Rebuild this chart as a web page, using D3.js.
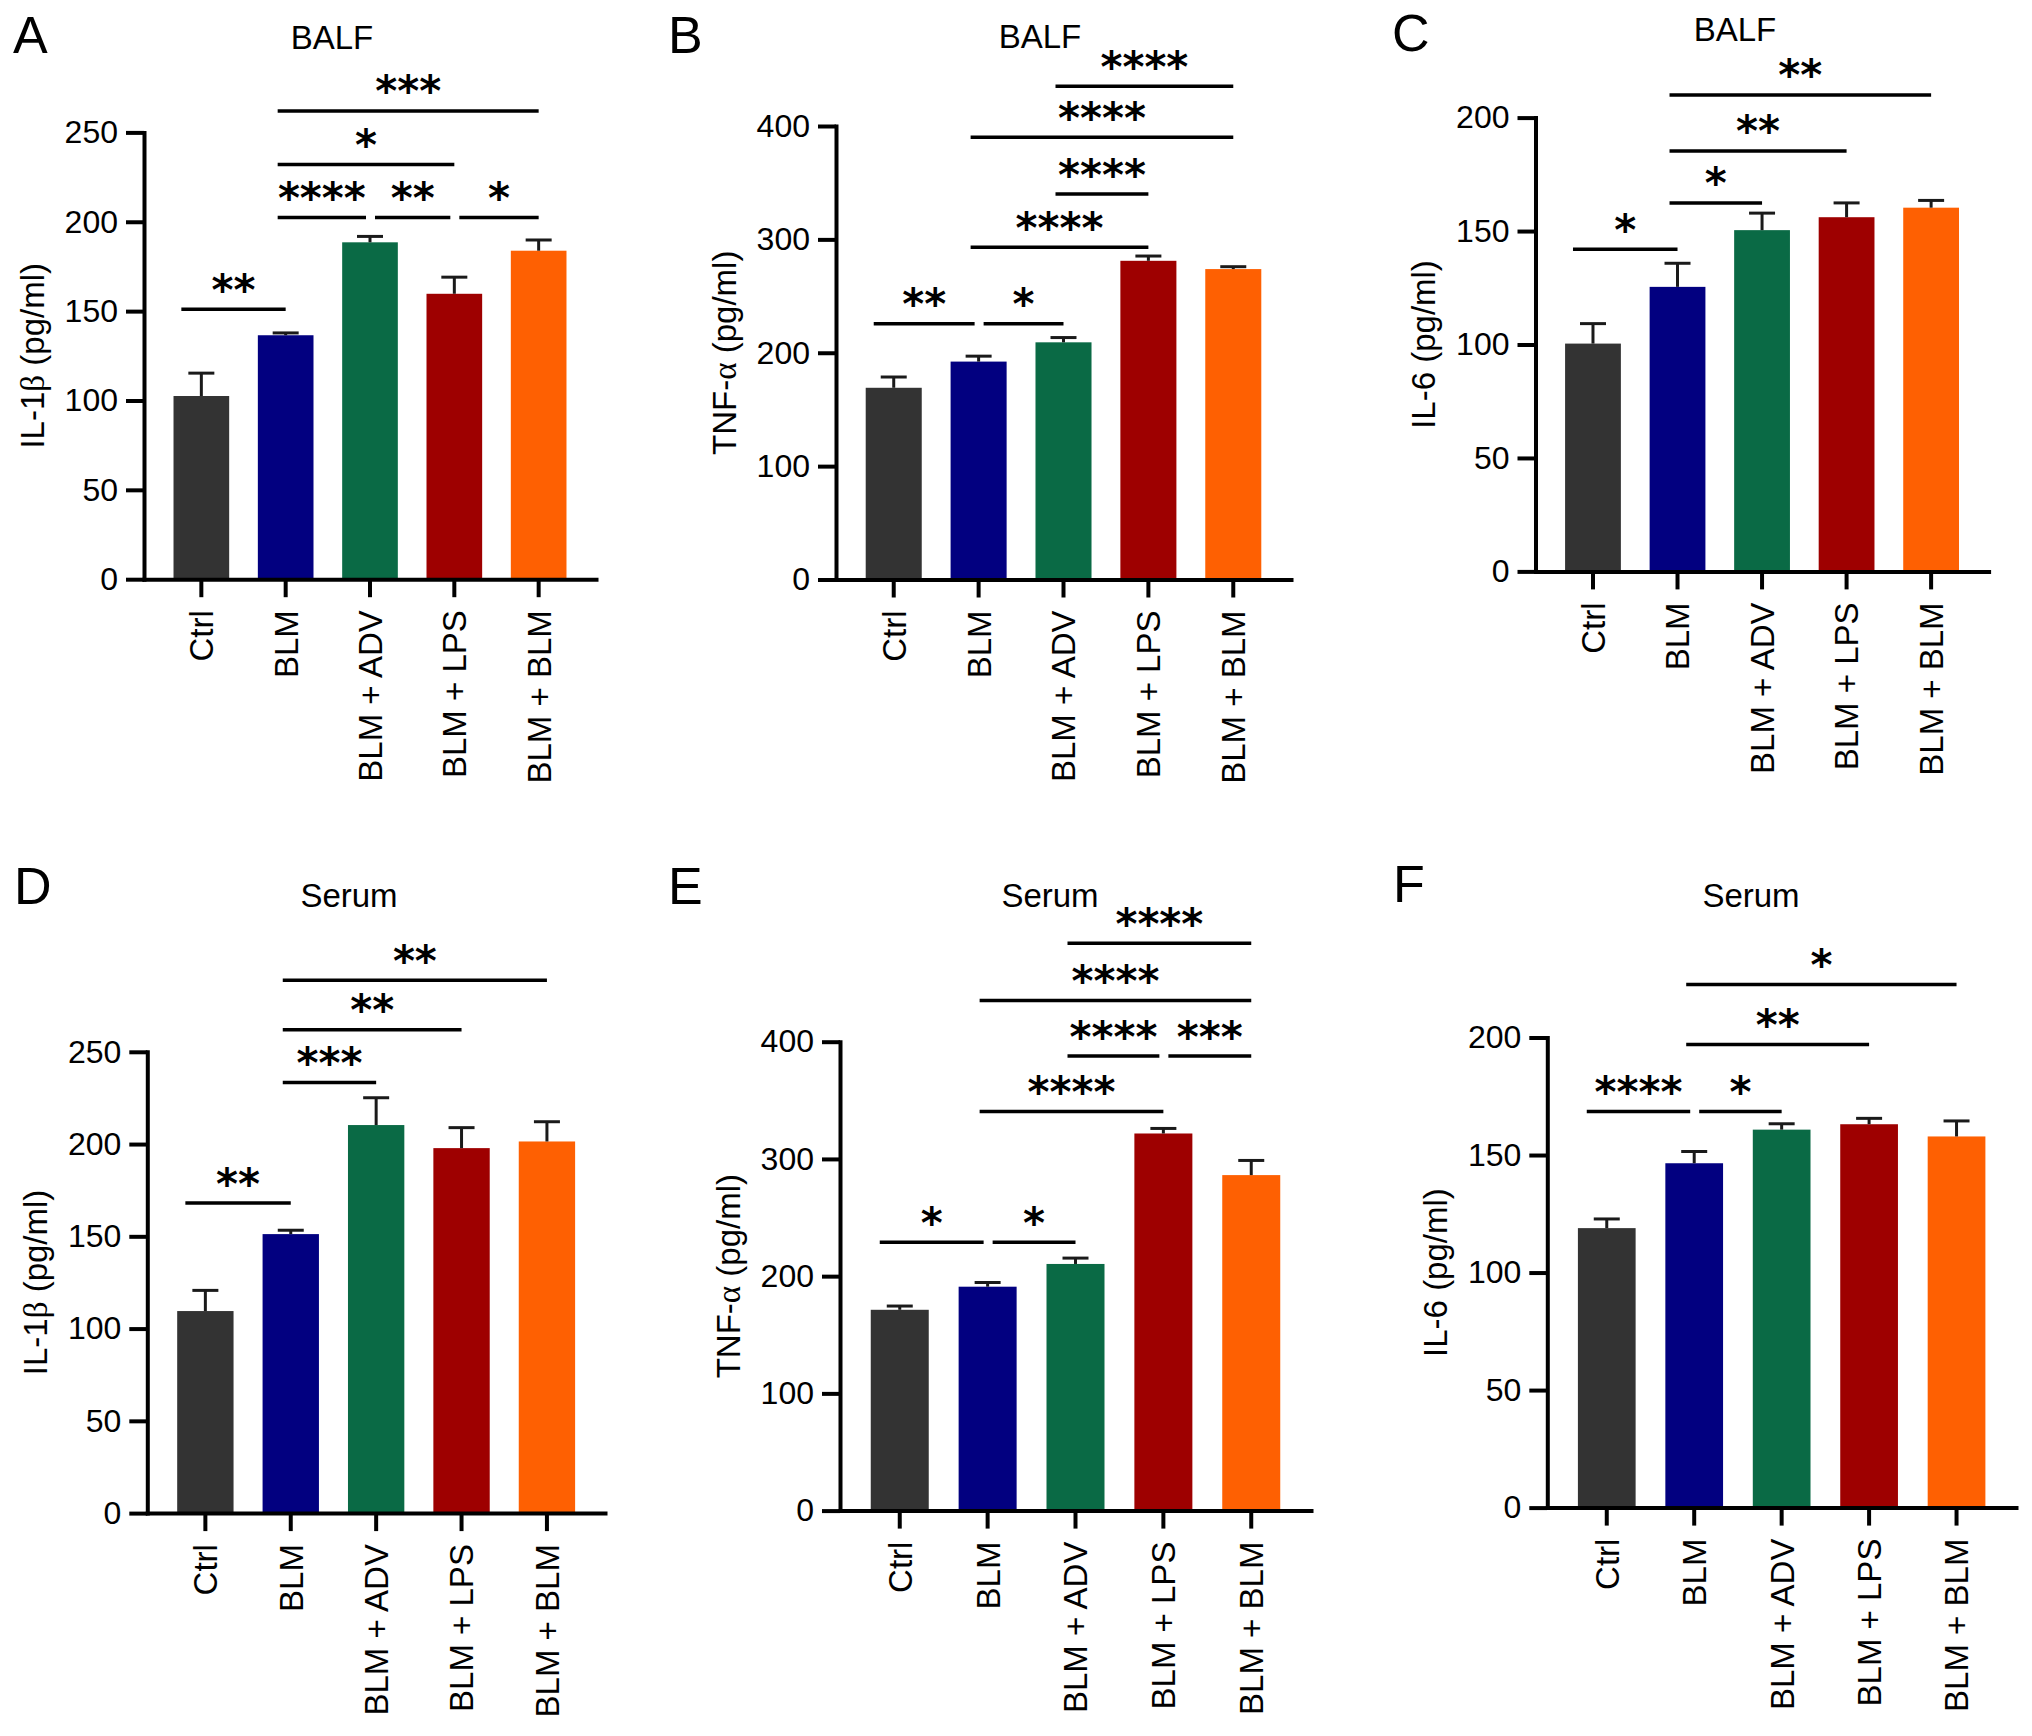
<!DOCTYPE html>
<html>
<head>
<meta charset="utf-8">
<script src="https://cdn.jsdelivr.net/npm/d3@7"></script>
<style>
  body { margin: 0; background: #fff; }
  svg { display: block; }
</style>
</head>
<body>
<script>
// groups on the x axis
const categories = ["Ctrl", "BLM", "BLM + ADV", "BLM + LPS", "BLM + BLM"];

// y tick values
const il1bTicks = [0, 50, 100, 150, 200, 250];
const tnfTicks = [0, 100, 200, 300, 400];
const il6Ticks = [0, 50, 100, 150, 200];

// BALF (mean, SEM)
const il1bBalfMean = [102.5, 136.5, 188.5, 159.7, 183.8];
const il1bBalfSem = [12.8, 1.3, 3.3, 9.3, 6.0];
const tnfBalfMean = [169.1, 192.2, 209.2, 281.1, 273.8];
const tnfBalfSem = [9.5, 4.8, 4.2, 4.2, 2.1];
const il6BalfMean = [100.4, 125.4, 150.4, 156.1, 160.3];
const il6BalfSem = [8.8, 10.4, 7.5, 6.3, 3.2];

// Serum (mean, SEM)
const il1bSerumMean = [109.5, 151.2, 210.3, 197.8, 201.4];
const il1bSerumSem = [11.2, 2.1, 14.8, 11.1, 10.7];
const tnfSerumMean = [171.3, 191.0, 210.4, 321.7, 286.2];
const tnfSerumSem = [3.2, 3.6, 5.0, 4.3, 12.5];
const il6SerumMean = [118.9, 146.5, 160.8, 163.1, 157.9];
const il6SerumSem = [3.9, 5.0, 2.5, 2.5, 6.6];

// significance: [from group, to group, bracket level (data units), label]
const il1bBalfSig = [[0, 1, 151, "**"], [1, 2, 202.4, "****"], [2, 3, 202.4, "**"], [3, 4, 202.4, "*"],
                     [1, 3, 232, "*"], [1, 4, 262, "***"]];
const tnfBalfSig = [[0, 1, 225.5, "**"], [1, 2, 225.5, "*"], [1, 3, 293, "****"], [2, 3, 340, "****"],
                    [1, 4, 390, "****"], [2, 4, 435, "****"]];
const il6BalfSig = [[0, 1, 142, "*"], [1, 2, 162.4, "*"], [1, 3, 185.3, "**"], [1, 4, 210, "**"]];
const il1bSerumSig = [[0, 1, 168, "**"], [1, 2, 233.3, "***"], [1, 3, 262, "**"], [1, 4, 288.8, "**"]];
const tnfSerumSig = [[0, 1, 229, "*"], [1, 2, 229, "*"], [1, 3, 340.4, "****"], [2, 3, 387.8, "****"],
                     [3, 4, 387.8, "***"], [1, 4, 435.2, "****"], [2, 4, 484, "****"]];
const il6SerumSig = [[0, 1, 168.5, "****"], [1, 2, 168.5, "*"], [1, 3, 197, "**"], [1, 4, 222.6, "*"]];

const barColors = ["#333333", "#020080", "#0a6a45", "#9e0000", "#fe6002"];

const W = 2032, H = 1736;
const sans = "'Liberation Sans', Arial, Helvetica, sans-serif";

const panels = [
  {letter: "A", title: "BALF", yl: ["IL-1", "β", " (pg/ml)"], mean: il1bBalfMean, sem: il1bBalfSem, sig: il1bBalfSig, ticks: il1bTicks,
   left: 144, right: 596, top: 132.4, bottom: 579.2, letterX: 13, letterY: 53, titleX: 332, titleY: 49},
  {letter: "B", title: "BALF", yl: ["TNF-", "α", " (pg/ml)"], mean: tnfBalfMean, sem: tnfBalfSem, sig: tnfBalfSig, ticks: tnfTicks,
   left: 836, right: 1291, top: 126, bottom: 579.5, letterX: 668, letterY: 53, titleX: 1040, titleY: 48},
  {letter: "C", title: "BALF", yl: ["IL-6", "", " (pg/ml)"], mean: il6BalfMean, sem: il6BalfSem, sig: il6BalfSig, ticks: il6Ticks,
   left: 1535.5, right: 1988.6, top: 117.6, bottom: 571.4, letterX: 1392, letterY: 51, titleX: 1735, titleY: 41},
  {letter: "D", title: "Serum", yl: ["IL-1", "β", " (pg/ml)"], mean: il1bSerumMean, sem: il1bSerumSem, sig: il1bSerumSig, ticks: il1bTicks,
   left: 147.3, right: 605, top: 1051.8, bottom: 1513.1, letterX: 14, letterY: 904, titleX: 349, titleY: 907},
  {letter: "E", title: "Serum", yl: ["TNF-", "α", " (pg/ml)"], mean: tnfSerumMean, sem: tnfSerumSem, sig: tnfSerumSig, ticks: tnfTicks,
   left: 840, right: 1311, top: 1041.7, bottom: 1510.6, letterX: 668, letterY: 904, titleX: 1050, titleY: 907},
  {letter: "F", title: "Serum", yl: ["IL-6", "", " (pg/ml)"], mean: il6SerumMean, sem: il6SerumSem, sig: il6SerumSig, ticks: il6Ticks,
   left: 1547.3, right: 2016, top: 1037.5, bottom: 1507.6, letterX: 1393, letterY: 902, titleX: 1751, titleY: 907}
];

const svg = d3.select("body").append("svg")
    .attr("width", W)
    .attr("height", H)
    .attr("viewBox", `0 0 ${W} ${H}`)
    .style("font-family", sans);

svg.append("rect").attr("width", W).attr("height", H).attr("fill", "#fff");

panels.forEach(p => {
    const g = svg.append("g");

    const x = d3.scaleBand()
        .domain(categories)
        .range([p.left, p.right])
        .paddingInner(0.34)
        .paddingOuter(0.35);

    const yMax = p.ticks[p.ticks.length - 1];
    const y = d3.scaleLinear()
        .domain([0, yMax])
        .range([p.bottom, p.top]);

    const cx = i => x(categories[i]) + x.bandwidth() / 2;

    // bars
    g.selectAll("rect.bar")
        .data(p.mean)
        .enter()
        .append("rect")
        .attr("class", "bar")
        .attr("x", (d, i) => x(categories[i]))
        .attr("y", d => y(d))
        .attr("width", x.bandwidth())
        .attr("height", d => y(0) - y(d))
        .attr("fill", (d, i) => barColors[i]);

    // error bars (upper only)
    const eb = g.selectAll("g.err")
        .data(p.mean)
        .enter()
        .append("g")
        .attr("class", "err")
        .attr("stroke", "#1a1a1a")
        .attr("stroke-width", 3);
    eb.append("line")
        .attr("x1", (d, i) => cx(i))
        .attr("x2", (d, i) => cx(i))
        .attr("y1", d => y(d))
        .attr("y2", (d, i) => y(d + p.sem[i]));
    eb.append("line")
        .attr("x1", (d, i) => cx(i) - 13)
        .attr("x2", (d, i) => cx(i) + 13)
        .attr("y1", (d, i) => y(d + p.sem[i]))
        .attr("y2", (d, i) => y(d + p.sem[i]));

    // y axis
    const yAxis = g.append("g")
        .attr("transform", `translate(${p.left},0)`)
        .call(d3.axisLeft(y).tickValues(p.ticks).tickSize(18).tickSizeOuter(0).tickPadding(8));
    yAxis.selectAll("text")
        .attr("font-size", 32)
        .attr("font-family", sans)
        .attr("fill", "#000");

    // x axis
    const xAxis = g.append("g")
        .attr("transform", `translate(0,${p.bottom})`)
        .call(d3.axisBottom(x).tickSize(18).tickSizeOuter(0));
    xAxis.selectAll("text")
        .attr("transform", "rotate(-90)")
        .attr("text-anchor", "end")
        .attr("x", -31)
        .attr("y", 0)
        .attr("dy", "0.36em")
        .attr("font-size", 33)
        .attr("font-family", sans)
        .attr("fill", "#000");

    [yAxis, xAxis].forEach(a => {
        a.select(".domain").attr("stroke", "#000").attr("stroke-width", 4).attr("stroke-linecap", "square");
        a.selectAll(".tick line").attr("stroke", "#000").attr("stroke-width", 4);
    });

    // y axis label
    const yl = g.append("text")
        .attr("transform", `translate(${p.left - 112},${(p.top + p.bottom) / 2}) rotate(-90)`)
        .attr("text-anchor", "middle")
        .attr("dy", "0.36em")
        .attr("font-size", 33)
        .attr("fill", "#000");
    yl.append("tspan").text(p.yl[0]);
    if (p.yl[1]) yl.append("tspan").attr("font-family", "'Liberation Serif', 'DejaVu Serif', serif").text(p.yl[1]);
    yl.append("tspan").text(p.yl[2]);

    // significance brackets
    p.sig.forEach(s => {
        const [a, b, v, label] = s;
        const sharedStart = p.sig.some(o => o !== s && o[2] === v && o[1] === a);
        const sharedEnd = p.sig.some(o => o !== s && o[2] === v && o[0] === b);
        const x1 = cx(a) + (sharedStart ? 5 : (a === 0 ? -20 : -8));
        const x2 = cx(b) + (sharedEnd ? -4 : 0);
        g.append("line")
            .attr("x1", x1).attr("x2", x2)
            .attr("y1", y(v)).attr("y2", y(v))
            .attr("stroke", "#000")
            .attr("stroke-width", 3.5);
        g.append("text")
            .attr("x", (x1 + x2) / 2)
            .attr("y", y(v) - 4.5)
            .attr("text-anchor", "middle")
            .attr("font-family", "'DejaVu Sans', sans-serif")
            .attr("font-weight", "bold")
            .attr("font-size", 42)
            .attr("fill", "#000")
            .text(label);
    });

    // panel title
    g.append("text")
        .attr("x", p.titleX)
        .attr("y", p.titleY)
        .attr("text-anchor", "middle")
        .attr("font-size", 33)
        .attr("fill", "#000")
        .text(p.title);

    // panel letter
    g.append("text")
        .attr("x", p.letterX)
        .attr("y", p.letterY)
        .attr("font-size", 52)
        .attr("fill", "#000")
        .text(p.letter);
});
</script>
</body>
</html>
